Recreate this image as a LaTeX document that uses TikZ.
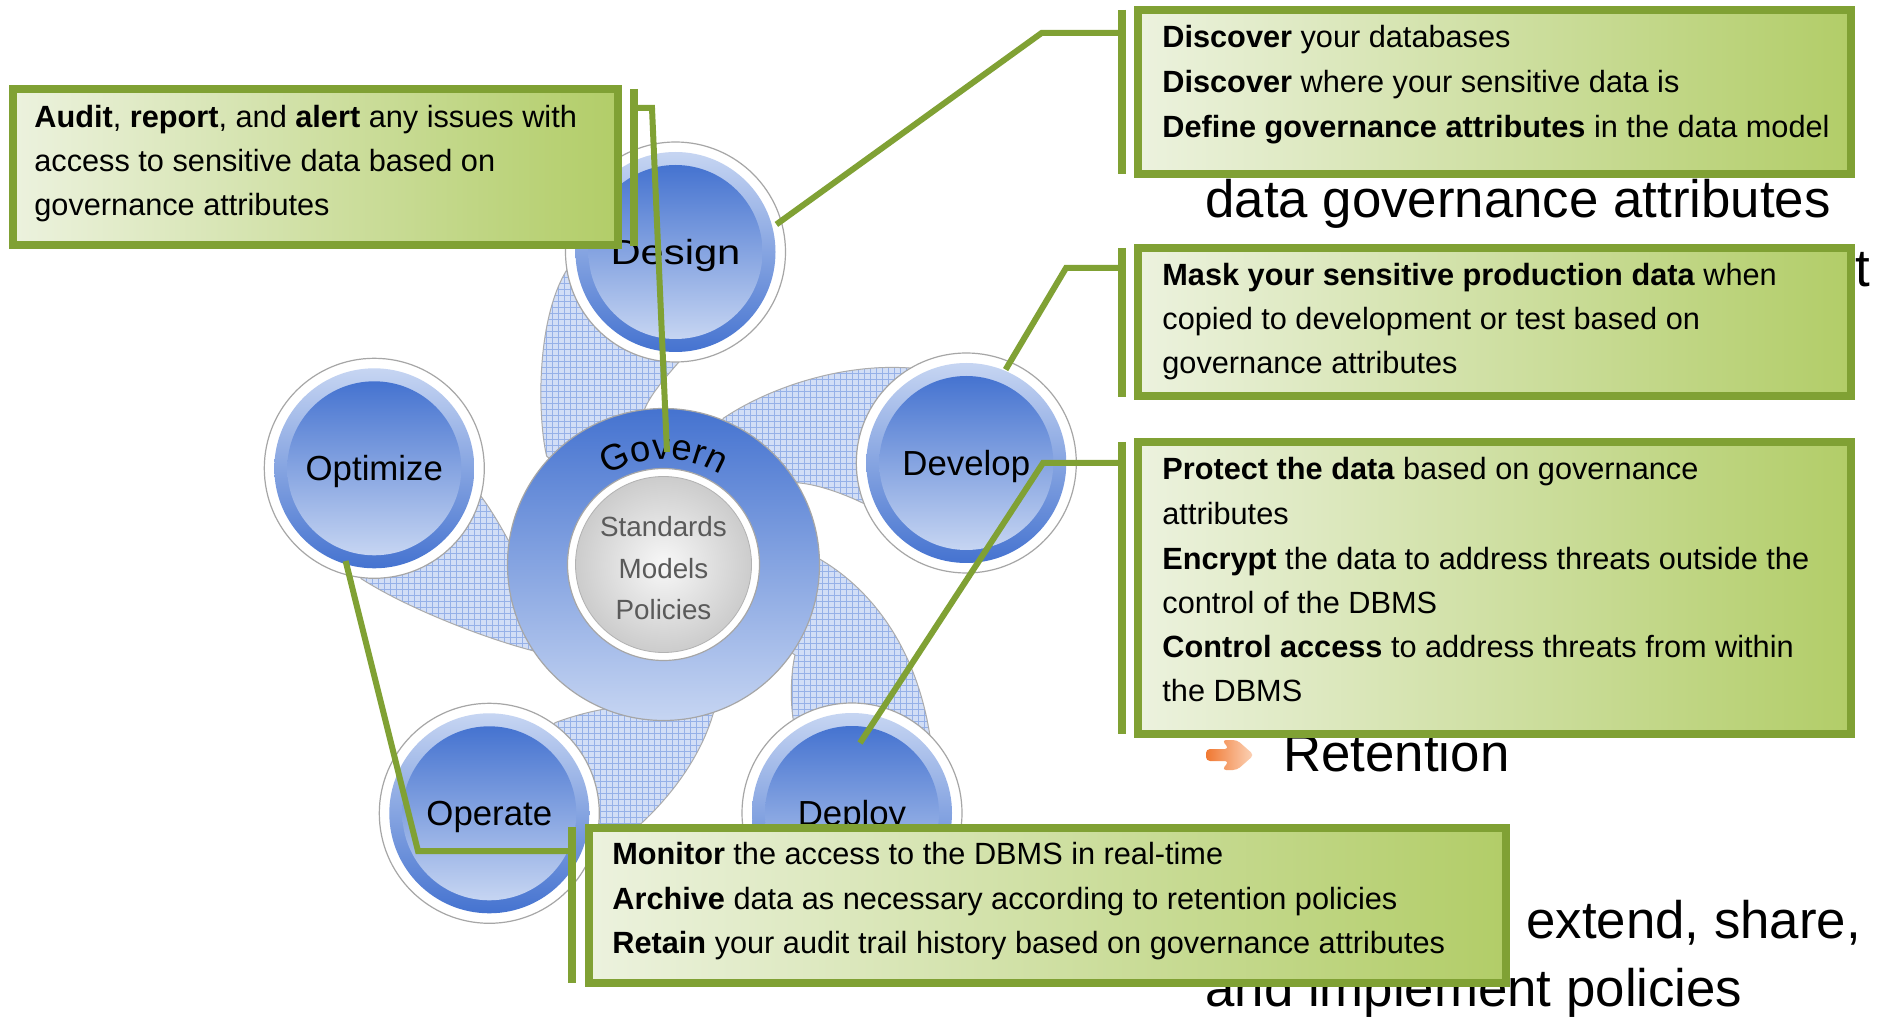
\documentclass[tikz,border=0pt]{standalone}
\usepackage{fontspec}
\setmainfont{Liberation Sans}
\usetikzlibrary{patterns,decorations.text}
\definecolor{bgreen}{RGB}{128,161,52}
\definecolor{blight}{RGB}{236,242,222}
\definecolor{bdark}{RGB}{178,205,104}
\definecolor{dblue}{RGB}{69,115,208}
\definecolor{lblue}{RGB}{198,213,242}
\definecolor{bladefill}{RGB}{210,222,246}
\definecolor{bladeline}{RGB}{150,177,232}
\definecolor{tgray}{RGB}{90,90,90}
\definecolor{orgA}{RGB}{240,120,50}
\definecolor{orgB}{RGB}{252,212,185}
\newcommand\govfont{\fontsize{18.2}{22}\selectfont}
\newcommand\satcircle[3]{%
  \draw[gray!70, line width=0.6pt, fill=white] (#2) circle[radius=110];
  \shade[top color=lblue, bottom color=dblue] (#2) circle[radius=100];
  \shade[top color=dblue, bottom color=lblue] (#2) circle[radius=87];
  \node[satlabel] (#1) at (#2) {#3};}
\tikzset{
  boxshape/.style={draw=bgreen, line width=4pt, left color=blight, right color=bdark, inner sep=0pt, outer sep=0pt},
  greenbar/.style={draw=bgreen, line width=4pt},
  conn/.style={draw=bgreen, line width=3pt},
  bodytext/.style={anchor=base west, inner sep=0pt, font=\fontsize{15.35}{18}\selectfont},
  bigtext/.style={anchor=base west, inner sep=0pt, font=\fontsize{26.4}{30}\selectfont},
  blade/.style={draw=gray!65, line width=0.5pt, preaction={fill=bladefill}, pattern=grid, pattern color=bladeline},
  satlabel/.style={font=\fontsize{17.4}{20}\selectfont, inner sep=0pt, yshift=-1.8pt},
  stdtext/.style={font=\fontsize{13.9}{16}\selectfont, text=tgray, anchor=base, inner sep=0pt}
}
\begin{document}
\begin{tikzpicture}[x=0.5pt,y=-0.5pt]
\useasboundingbox (0,0) rectangle (1881,1021);
\fill[white] (0,0) rectangle (1881,1021);

% background slide text
\node[bigtext] (bg1) at (1205,218) {data governance attributes};
\node[bigtext] (bg2) at (1855,287) {t};
\node[bigtext] (bg3) at (1283,771) {Retention};
\node[bigtext] (bg4) at (1526,938) {extend, share,};
\node[bigtext] (bg5) at (1205,1006) {and implement policies};
\shade[left color=orgA, right color=orgB, rounded corners=2pt]
  (1206,749) -- (1229,749) -- (1222,740) -- (1237,740) -- (1254,755)
  -- (1237,770) -- (1222,770) -- (1229,761) -- (1206,761) -- cycle;

% centres
\coordinate (G) at (663.5,564.5);
\coordinate (cDes) at (675.5,252);
\coordinate (cOpt) at (374.3,468.3);
\coordinate (cDev) at (966.3,463);
\coordinate (cDep) at (852,813);
\coordinate (cOpe) at (489.3,813.3);

% blades
\path[blade] (546.6,456) .. controls (538,420) and (535,320) .. (567.6,268.6) -- (cDes)
  -- (678.6,362.4) .. controls (665,378) and (650,395) .. (644.2,410.2) -- (G) -- cycle;
\path[blade] (723.3,418.3) .. controls (765,390) and (840,362) .. (913.3,368.3) -- (cDev)
  -- (863.3,503.3) .. controls (840,492) and (815,484) .. (796.7,482.7) -- (G) -- cycle;
\path[blade] (818.3,558.3) .. controls (865,585) and (915,640) .. (930,736) -- (cDep)
  -- (793.3,720) .. controls (790,700) and (791,672) .. (795,655) -- (G) -- cycle;
\path[blade] (713.3,713.3) .. controls (700,760) and (660,820) .. (585,866) -- (cOpe)
  -- (555,722.7) .. controls (570,717) and (588,712) .. (603.3,709.3) -- (G) -- cycle;
\path[blade] (535.1,651.3) .. controls (490,640) and (410,610) .. (361,578.6) -- (cOpt)
  -- (479.6,494.4) .. controls (490,508) and (500,525) .. (508.3,540.4) -- (G) -- cycle;

% Govern
\draw[gray!70, line width=0.6pt, top color=dblue, bottom color=lblue] (G) circle[radius=156];
\draw[gray!70, line width=0.6pt, fill=white] (G) circle[radius=96];
\shade[inner color=gray!6, outer color=gray!40] (G) circle[radius=88];
\draw[gray!60, line width=0.4pt] (G) circle[radius=88];
\node[stdtext] (std1) at (663.5,537) {Standards};
\node[stdtext] (std2) at (663.5,579) {Models};
\node[stdtext] (std3) at (663.5,619) {Policies};
\path[decorate, decoration={text along path, text={|\govfont|Govern}, text align=center}]
  (600.6,479.1) .. controls (638,452.5) and (689,452.5) .. (726.4,479.1);

% satellites
\satcircle{nDes}{cDes}{\scalebox{1.2}[1]{Design}}
\satcircle{nOpt}{cOpt}{Optimize}
\satcircle{nDev}{cDev}{Develop}
\satcircle{nDep}{cDep}{Deploy}
\satcircle{nOpe}{cOpe}{Operate}

% connector points
\coordinate (a1) at (667,452);   \coordinate (a2) at (652,108);   \coordinate (a3) at (638,108);
\coordinate (d1) at (776.4,224.4); \coordinate (d2) at (1041.6,33); \coordinate (d3) at (1118,33);
\coordinate (m1) at (1005.6,369.6); \coordinate (m2) at (1066,268); \coordinate (m3) at (1118,268);
\coordinate (p1) at (860,743);   \coordinate (p2) at (1043,463);  \coordinate (p3) at (1118,463);
\coordinate (o1) at (345.6,561); \coordinate (o2) at (418,851);   \coordinate (o3) at (568,851);
\draw[conn] (a1) -- (a2) -- (a3);
\draw[conn] (d1) -- (d2) -- (d3);
\draw[conn] (m1) -- (m2) -- (m3);
\draw[conn] (p1) -- (p2) -- (p3);
\draw[conn] (o1) -- (o2) -- (o3);

% bars
\coordinate (ba1) at (634,89);   \coordinate (ba2) at (634,246);
\coordinate (bd1) at (1122,10);  \coordinate (bd2) at (1122,174);
\coordinate (bm1) at (1122,248); \coordinate (bm2) at (1122,397);
\coordinate (bp1) at (1122,442); \coordinate (bp2) at (1122,734);
\coordinate (bo1) at (572,827);  \coordinate (bo2) at (572,983);
\draw[greenbar] (ba1) -- (ba2);
\draw[greenbar] (bd1) -- (bd2);
\draw[greenbar] (bm1) -- (bm2);
\draw[greenbar] (bp1) -- (bp2);
\draw[greenbar] (bo1) -- (bo2);

% boxes
\node[boxshape, minimum width=302.5pt, minimum height=78pt] (boxA) at (315.5,167) {};
\node[boxshape, minimum width=356.5pt, minimum height=82pt] (boxD) at (1494.5,92) {};
\node[boxshape, minimum width=356.5pt, minimum height=74pt] (boxM) at (1494.5,322) {};
\node[boxshape, minimum width=356.5pt, minimum height=146pt] (boxP) at (1494.5,588) {};
\node[boxshape, minimum width=458.5pt, minimum height=77.5pt] (boxO) at (1047.5,905.5) {};

% box texts
\node[bodytext] (au1) at (34,128) {\textbf{Audit}, \textbf{report}, and \textbf{alert} any issues with};
\node[bodytext] (au2) at (34,172) {access to sensitive data based on};
\node[bodytext] (au3) at (34,216) {governance attributes};

\node[bodytext] (di1) at (1162,48) {\textbf{Discover} your databases};
\node[bodytext] (di2) at (1162,93) {\textbf{Discover} where your sensitive data is};
\node[bodytext] (di3) at (1162,138) {\textbf{Define governance attributes} in the data model};

\node[bodytext] (ma1) at (1162,286) {\textbf{Mask your sensitive production data} when};
\node[bodytext] (ma2) at (1162,330) {copied to development or test based on};
\node[bodytext] (ma3) at (1162,374) {governance attributes};

\node[bodytext] (pr1) at (1162,480) {\textbf{Protect the data} based on governance};
\node[bodytext] (pr2) at (1162,525) {attributes};
\node[bodytext] (pr3) at (1162,570) {\textbf{Encrypt} the data to address threats outside the};
\node[bodytext] (pr4) at (1162,614) {control of the DBMS};
\node[bodytext] (pr5) at (1162,658) {\textbf{Control access} to address threats from within};
\node[bodytext] (pr6) at (1162,702) {the DBMS};

\node[bodytext] (mo1) at (612,864) {\textbf{Monitor} the access to the DBMS in real-time};
\node[bodytext] (mo2) at (612,909) {\textbf{Archive} data as necessary according to retention policies};
\node[bodytext] (mo3) at (612,953) {\textbf{Retain} your audit trail history based on governance attributes};
\end{tikzpicture}
\end{document}
